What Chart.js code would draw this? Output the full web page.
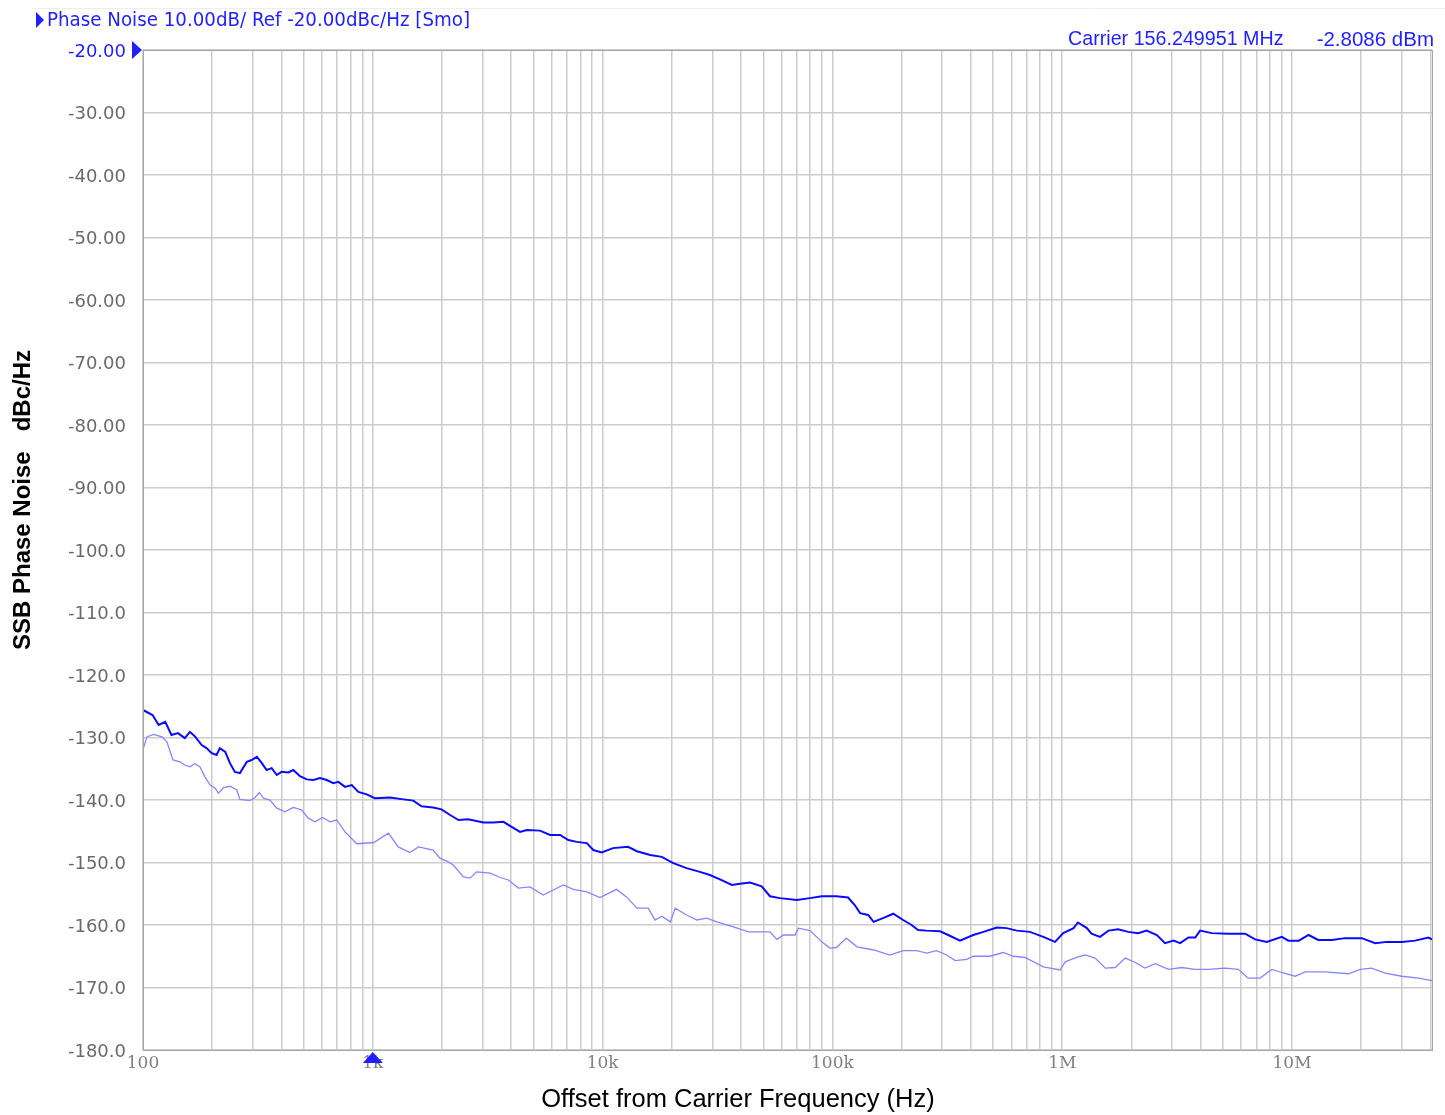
<!DOCTYPE html>
<html lang="en">
<head>
    <meta charset="UTF-8">
    <title>SSB Phase Noise</title>
    <style>
        body { margin: 0; padding: 0; background: #ffffff; }
        #wrap { width: 1445px; height: 1115px; position: relative; }
    </style>
</head>
<body>
<div id="wrap"><canvas id="pnChart" width="1445" height="1115"></canvas></div>

<script src="https://cdn.jsdelivr.net/npm/chart.js"></script>
<script>
    // offsets in Hz and phase noise in dBc/Hz
    var traceFreq = [100, 110, 117, 125, 133, 142, 152, 160, 168, 180, 189, 199, 209, 216, 228, 239, 251, 264,
        283, 297, 313, 329, 345, 363, 382, 401, 429, 451, 482, 516, 551, 589, 630, 673, 708, 757, 810, 865, 941,
        1020, 1190, 1360, 1500, 1630, 1830, 1990, 2170, 2360, 2600, 3030, 3350, 3700, 4020, 4370, 4680, 5340,
        5900, 6530, 7090, 7720, 8530, 9110, 9910, 11100, 12900, 14100, 16100, 18100, 20300, 23200, 26500, 29300,
        32400, 36500, 39600, 43800, 49200, 53500, 59100, 69900, 79900, 89800, 104000, 117000, 125000, 132000,
        143000, 151000, 166000, 184000, 203000, 221000, 236000, 257000, 294000, 319000, 359000, 410000, 454000,
        519000, 573000, 634000, 724000, 827000, 930000, 1010000, 1120000, 1170000, 1280000, 1340000, 1460000,
        1590000, 1750000, 1940000, 2140000, 2330000, 2580000, 2800000, 3050000, 3260000, 3540000, 3790000,
        3980000, 4470000, 5290000, 6250000, 6910000, 7770000, 9020000, 9640000, 10700000, 11800000, 13000000,
        14900000, 17000000, 20100000, 23000000, 25800000, 30000000, 34300000, 39200000, 40640000];
    var traceDb = [-125.6, -126.4, -128.0, -127.5, -129.6, -129.3, -130.1, -129.1, -129.8, -131.2, -131.7, -132.5,
        -132.8, -131.7, -132.3, -134.1, -135.5, -135.7, -133.9, -133.6, -133.1, -134.1, -135.2, -134.9, -136.0,
        -135.5, -135.6, -135.2, -136.2, -136.7, -136.8, -136.5, -136.8, -137.3, -137.1, -137.9, -137.6, -138.7,
        -139.1, -139.7, -139.6, -139.9, -140.1, -141.0, -141.2, -141.5, -142.4, -143.2, -143.1, -143.6, -143.6,
        -143.5, -144.3, -145.1, -144.8, -144.9, -145.6, -145.6, -146.4, -146.7, -146.9, -148.0, -148.4, -147.7,
        -147.5, -148.2, -148.8, -149.1, -150.1, -150.9, -151.5, -152.0, -152.7, -153.6, -153.4, -153.2, -153.8,
        -155.4, -155.7, -156.0, -155.7, -155.4, -155.4, -155.6, -156.8, -158.1, -158.4, -159.5, -158.9, -158.2,
        -159.2, -160.0, -160.8, -160.9, -161.0, -161.6, -162.5, -161.6, -161.1, -160.4, -160.5, -160.9, -161.1,
        -161.9, -162.7, -161.3, -160.5, -159.6, -160.5, -161.4, -161.9, -160.9, -160.7, -161.1, -161.3, -160.9,
        -161.6, -162.9, -162.5, -162.9, -162.0, -162.0, -160.9, -161.3, -161.4, -161.4, -162.3, -162.7, -161.9,
        -162.5, -162.5, -161.6, -162.4, -162.4, -162.1, -162.1, -162.9, -162.7, -162.7, -162.5, -162.0, -162.3];

    var refFreq = [100, 104, 111, 121, 127, 135, 145, 152, 160, 168, 177, 186, 196, 206, 213, 224, 239, 256, 264,
        292, 307, 321, 334, 357, 382, 415, 451, 491, 524, 560, 605, 651, 697, 757, 851, 1010, 1170, 1290, 1450,
        1580, 1830, 1960, 2130, 2240, 2480, 2650, 2830, 3240, 3580, 3890, 4300, 4830, 5520, 6100, 6750, 7460,
        8530, 9740, 11500, 12700, 14100, 15800, 16900, 18100, 19700, 20700, 23200, 25700, 28400, 31400, 37100,
        43100, 53500, 57300, 61200, 68800, 71100, 79900, 89800, 97600, 104000, 115000, 128000, 151000, 178000,
        203000, 233000, 257000, 284000, 314000, 342000, 384000, 410000, 485000, 554000, 613000, 689000, 827000,
        979000, 1030000, 1170000, 1260000, 1390000, 1540000, 1700000, 1880000, 2080000, 2290000, 2540000,
        2900000, 3310000, 3790000, 4320000, 5110000, 5840000, 6450000, 7260000, 8160000, 9020000, 10300000,
        11400000, 13900000, 17600000, 19800000, 22200000, 25400000, 30000000, 35500000, 40640000];
    var refDb = [-131.9, -129.9, -129.5, -129.9, -130.7, -133.6, -133.9, -134.4, -134.7, -134.2, -134.7, -136.3,
        -137.6, -138.1, -138.9, -138.0, -137.8, -138.4, -139.9, -140.1, -139.6, -138.8, -139.7, -140.0, -141.3,
        -141.9, -141.2, -141.6, -142.9, -143.5, -142.8, -143.5, -143.2, -145.1, -147.0, -146.8, -145.3, -147.5,
        -148.4, -147.5, -148.0, -149.3, -149.9, -150.4, -152.3, -152.5, -151.5, -151.7, -152.4, -152.8, -154.1,
        -153.9, -155.2, -154.4, -153.6, -154.3, -154.7, -155.6, -154.3, -155.5, -157.3, -157.3, -159.2, -158.6,
        -159.5, -157.3, -158.4, -159.2, -158.9, -159.5, -160.3, -161.1, -161.1, -162.3, -161.6, -161.6, -160.5,
        -160.9, -162.7, -163.7, -163.6, -162.1, -163.5, -164.0, -164.8, -164.1, -164.1, -164.5, -164.1, -164.8,
        -165.7, -165.5, -165.0, -165.0, -164.4, -165.0, -165.2, -166.7, -167.2, -165.9, -165.1, -164.8, -165.3,
        -166.9, -166.8, -165.3, -166.0, -166.9, -166.2, -167.1, -166.8, -167.1, -167.1, -166.9, -167.1, -168.5,
        -168.5, -167.1, -167.6, -168.2, -167.5, -167.5, -167.8, -167.1, -166.9, -167.7, -168.2, -168.5, -168.9];

    var decadeLabels = { 100: '100', 1000: '1k', 10000: '10k', 100000: '100k', 1000000: '1M', 10000000: '10M' };
    var freqMin = 100;
    var freqMax = 40640000;

    function toPoints(xs, ys) {
        return xs.map(function (x, i) { return { x: x, y: ys[i] }; });
    }

    var BLUE = '#1f1fff';

    // header texts, marker triangles, border and axis titles
    var decorPlugin = {
        id: 'decor',
        afterDraw: function (chart) {
            var ctx = chart.ctx;
            var a = chart.chartArea;
            var xs = chart.scales.x;
            ctx.save();
            ctx.strokeStyle = '#a6a6a6';
            ctx.lineWidth = 1;
            ctx.strokeRect(a.left + 0.5, a.top + 0.5, a.right - a.left, a.bottom - a.top);

            ctx.strokeStyle = '#eeeeee';
            ctx.beginPath();
            ctx.moveTo(35, 8.5);
            ctx.lineTo(1445, 8.5);
            ctx.stroke();

            // header
            ctx.fillStyle = BLUE;
            ctx.beginPath();
            ctx.moveTo(36, 12); ctx.lineTo(44, 20); ctx.lineTo(36, 28); ctx.closePath();
            ctx.fill();
            ctx.font = '20.3px "DejaVu Sans Condensed", "DejaVu Sans", sans-serif';
            ctx.textBaseline = 'middle';
            ctx.textAlign = 'left';
            ctx.fillText('Phase Noise 10.00dB/ Ref -20.00dBc/Hz [Smo]', 47, 21);

            ctx.font = '19.7px "Liberation Sans Narrow", "Liberation Sans", sans-serif';
            ctx.fillText('Carrier 156.249951 MHz', 1068, 40);
            ctx.font = '20.5px "Liberation Sans Narrow", "Liberation Sans", sans-serif';
            ctx.textAlign = 'right';
            ctx.fillText('-2.8086 dBm', 1434, 40);

            // reference level marker
            var yRef = chart.scales.y.getPixelForValue(-20);
            ctx.beginPath();
            ctx.moveTo(132, yRef - 9); ctx.lineTo(142, yRef); ctx.lineTo(132, yRef + 9); ctx.closePath();
            ctx.fill();

            // marker at 1k
            var xm = xs.getPixelForValue(1000);
            ctx.beginPath();
            ctx.moveTo(xm, a.bottom + 2); ctx.lineTo(xm + 10, a.bottom + 13); ctx.lineTo(xm - 10, a.bottom + 13);
            ctx.closePath();
            ctx.fill();

            // axis titles
            ctx.fillStyle = '#000000';
            ctx.textAlign = 'center';
            ctx.font = '25.5px "Liberation Sans Narrow", "Liberation Sans", sans-serif';
            ctx.fillText('Offset from Carrier Frequency (Hz)', 738, 1100);

            ctx.translate(23, 500);
            ctx.rotate(-Math.PI / 2);
            ctx.font = 'bold 24px "Liberation Sans", Arial, sans-serif';
            ctx.fillText('SSB Phase Noise   dBc/Hz', 0, 0);
            ctx.restore();
        }
    };

    var ctx = document.getElementById('pnChart').getContext('2d');
    var pnChart = new Chart(ctx, {
        type: 'line',
        data: {
            datasets: [{
                label: 'Reference',
                data: toPoints(refFreq, refDb),
                borderColor: '#8686ff',
                borderWidth: 1.3,
                pointRadius: 0,
                tension: 0
            }, {
                label: 'Trace',
                data: toPoints(traceFreq, traceDb),
                borderColor: '#0a0aff',
                borderWidth: 2,
                pointRadius: 0,
                tension: 0
            }]
        },
        options: {
            responsive: false,
            animation: false,
            layout: { padding: { left: 0, top: 50, right: 13, bottom: 0 } },
            plugins: {
                legend: { display: false },
                tooltip: { enabled: false }
            },
            scales: {
                x: {
                    type: 'logarithmic',
                    min: freqMin,
                    max: freqMax,
                    afterBuildTicks: function (scale) {
                        var ticks = [];
                        for (var d = 100; d <= freqMax; d *= 10) {
                            for (var m = 1; m <= 9; m++) {
                                var v = d * m;
                                if (v <= freqMax) ticks.push({ value: v });
                            }
                        }
                        scale.ticks = ticks;
                    },
                    afterFit: function (scale) { scale.height = 65; },
                    grid: { color: '#cccccc', lineWidth: 1.5, drawTicks: false },
                    border: { display: false },
                    ticks: {
                        autoSkip: false,
                        maxRotation: 0,
                        padding: 3,
                        color: '#808080',
                        font: { family: '"DejaVu Serif", serif', size: 17 },
                        callback: function (value) {
                            return decadeLabels[value] || '';
                        }
                    }
                },
                y: {
                    type: 'linear',
                    min: -180,
                    max: -20,
                    afterFit: function (scale) { scale.width = 143; },
                    grid: { color: '#cccccc', lineWidth: 1.5, drawTicks: false },
                    border: { display: false },
                    ticks: {
                        stepSize: 10,
                        padding: 17,
                        labelOffset: 2,
                        font: { family: '"DejaVu Sans", sans-serif', size: 18 },
                        color: function (c) { return c.tick && c.tick.value === -20 ? BLUE : '#6a6a6a'; },
                        callback: function (value) {
                            return value > -100 ? value.toFixed(2) : value.toFixed(1);
                        }
                    }
                }
            }
        },
        plugins: [decorPlugin]
    });
</script>
</body>
</html>
